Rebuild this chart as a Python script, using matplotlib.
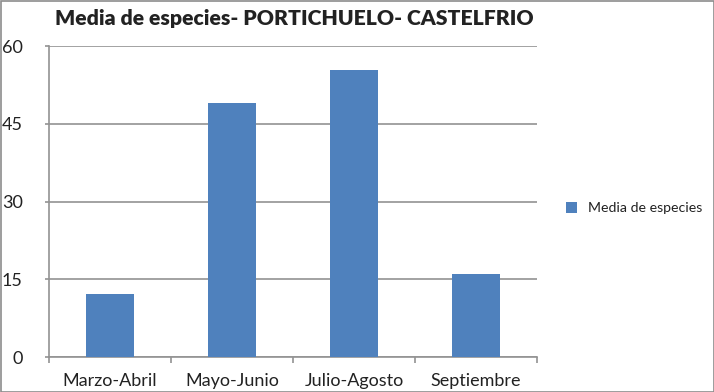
import matplotlib
matplotlib.use("Agg")
import matplotlib.pyplot as plt
from matplotlib.patches import Rectangle

categories = ["Marzo-Abril", "Mayo-Junio", "Julio-Agosto", "Septiembre"]
values = [12.2, 49.1, 55.3, 16.1]
yticks = [0, 15, 30, 45, 60]
series_name = "Media de especies"
title = "Media de especies- PORTICHUELO- CASTELFRIO"

plt.rcParams['font.family'] = ['Lato', 'DejaVu Sans']

fig = plt.figure(figsize=(7.14, 3.92), dpi=100)
ax = fig.add_axes([49/714, 1-357.3/392, (537-49)/714, (357.3-46)/392])

grid_c = '#929292'
x = list(range(len(categories)))
ax.bar(x, values, width=0.40, color='#4F81BD', label=series_name, zorder=3)

ax.set_xlim(-0.5, len(categories)-0.5)
ax.set_ylim(0, 60)
ax.set_yticks(yticks)
ax.set_yticklabels([str(v) for v in yticks], fontsize=13, color='#222222')
ax.yaxis.grid(True, color=grid_c, linewidth=1.2, zorder=0)
ax.tick_params(axis='y', length=3, width=1.2, color=grid_c, pad=16)

ax.set_xticks(x)
ax.set_xticklabels(categories, fontsize=13, color='#222222')
ax.tick_params(axis='x', which='major', length=0, pad=11)
ax.set_xticks([i - 0.5 for i in range(len(categories)+1)], minor=True)
ax.tick_params(axis='x', which='minor', length=4, width=1.2, color=grid_c)

for s in ['top', 'right']:
    ax.spines[s].set_visible(False)
for s in ['left', 'bottom']:
    ax.spines[s].set_color(grid_c)
    ax.spines[s].set_linewidth(1.2)

fig.text(294/714, 1-19/392, title, ha='center', va='center', fontsize=15.2,
         fontweight='heavy', color='#222222')

leg = ax.legend(loc='center left', bbox_to_anchor=(553/714, 1-208/392),
                bbox_transform=fig.transFigure, frameon=False, fontsize=10.2,
                handlelength=0.8, handleheight=0.8, handletextpad=0.8)
for t in leg.get_texts():
    t.set_color('#222222')

fig.patches.append(Rectangle((0.5/714, 0.5/392), 1-1/714, 1-1/392, transform=fig.transFigure,
                             fill=False, edgecolor='#8c8c8c', linewidth=1.2))

fig.savefig("out.png", dpi=100)
